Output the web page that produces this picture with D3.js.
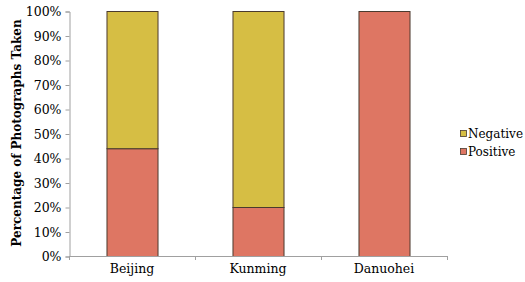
<!DOCTYPE html>
<html>
<head>
<meta charset="utf-8">
<script src="https://cdn.jsdelivr.net/npm/d3@7"></script>
<style>
  body { margin: 0; background: #fff; }
  text { font-family: "DejaVu Serif", serif; }
</style>
</head>
<body>
<div id="chart-area"></div>
<script>
// data
var cities = ["Beijing", "Kunming", "Danuohei"];
var positive = [0.44, 0.20, 1.00];
var negative = [0.56, 0.80, 0.00];
var seriesNames = ["Negative", "Positive"];
var yTicks = [0, 0.1, 0.2, 0.3, 0.4, 0.5, 0.6, 0.7, 0.8, 0.9, 1.0];

var colors = { Positive: "#de7663", Negative: "#d6be44" };
var serif = "'DejaVu Serif', serif";

var width = 525, height = 282;
var margin = { left: 69, right: 78, top: 11, bottom: 26 };

var svg = d3.select("#chart-area")
    .append("svg")
        .attr("width", width)
        .attr("height", height);

var x = d3.scaleBand()
    .domain(cities)
    .range([margin.left, width - margin.right])
    .paddingInner(0.595)
    .paddingOuter(0.2975);

var y = d3.scaleLinear()
    .domain([0, 1])
    .range([height - margin.bottom, margin.top]);

// stacked table
var table = cities.map(function(c, i) {
    return { city: c, Positive: positive[i], Negative: negative[i] };
});
var stack = d3.stack().keys(["Positive", "Negative"]);
var layers = stack(table);

var g = svg.append("g");
layers.forEach(function(layer) {
    g.selectAll(null)
        .data(layer.filter(function(d) { return d[1] - d[0] > 0; }))
        .join("rect")
            .attr("x", function(d) { return x(d.data.city) + 0.5; })
            .attr("y", function(d) { return y(d[1]) + 0.5; })
            .attr("width", x.bandwidth())
            .attr("height", function(d) { return y(d[0]) - y(d[1]); })
            .attr("fill", colors[layer.key])
            .attr("stroke", "#4a3a2e")
            .attr("stroke-width", 1);
});

// y axis
var yAxis = d3.axisLeft(y)
    .tickValues(yTicks)
    .tickFormat(d3.format(".0%"))
    .tickSize(4)
    .tickPadding(4);
var ya = svg.append("g")
    .attr("transform", "translate(" + (margin.left + 0.5) + ",0.5)")
    .call(yAxis);
ya.attr("font-family", serif);
ya.select(".domain").attr("stroke", "#a0a0a0");
ya.selectAll(".tick line").attr("stroke", "#a0a0a0");
ya.selectAll(".tick text")
    .attr("fill", "#000")
    .style("font-size", "12.5px")
    .style("font-family", serif);

// x axis line with boundary ticks
var x0 = margin.left, x1 = width - margin.right;
var yb = y(0);
svg.append("line")
    .attr("x1", x0).attr("x2", x1 + 0.5)
    .attr("y1", yb + 0.5).attr("y2", yb + 0.5)
    .attr("stroke", "#a0a0a0");
var bounds = [];
for (var i = 0; i <= cities.length; i++) bounds.push(x0 + (x1 - x0) * i / cities.length);
svg.selectAll(".xtick")
    .data(bounds)
    .join("line")
        .attr("x1", function(d) { return Math.round(d) + 0.5; })
        .attr("x2", function(d) { return Math.round(d) + 0.5; })
        .attr("y1", yb)
        .attr("y2", yb + 4)
        .attr("stroke", "#a0a0a0");

svg.selectAll(".xlab")
    .data(cities)
    .join("text")
        .attr("x", function(d) { return x(d) + x.bandwidth() / 2; })
        .attr("y", yb + 17)
        .attr("text-anchor", "middle")
        .style("font-family", serif)
        .style("font-size", "12.5px")
        .text(function(d) { return d; });

// y title
svg.append("text")
    .attr("transform", "translate(21," + 133 + ") rotate(-90)")
    .attr("text-anchor", "middle")
    .style("font-family", serif)
    .style("font-size", "12px")
    .style("font-weight", "bold")
    .text("Percentage of Photographs Taken");

// legend
var legend = svg.selectAll(".leg")
    .data(seriesNames)
    .join("g")
        .attr("transform", function(d, i) { return "translate(460," + (130 + i * 18) + ")"; });
legend.append("rect")
    .attr("x", 0.5).attr("y", 0.5)
    .attr("width", 6).attr("height", 6)
    .attr("fill", function(d) { return colors[d]; })
    .attr("stroke", "#4a3a2e")
    .attr("stroke-width", 0.8);
legend.append("text")
    .attr("x", 8)
    .attr("y", 8)
    .style("font-family", serif)
    .style("font-size", "12px")
    .text(function(d) { return d; });
</script>
</body>
</html>
